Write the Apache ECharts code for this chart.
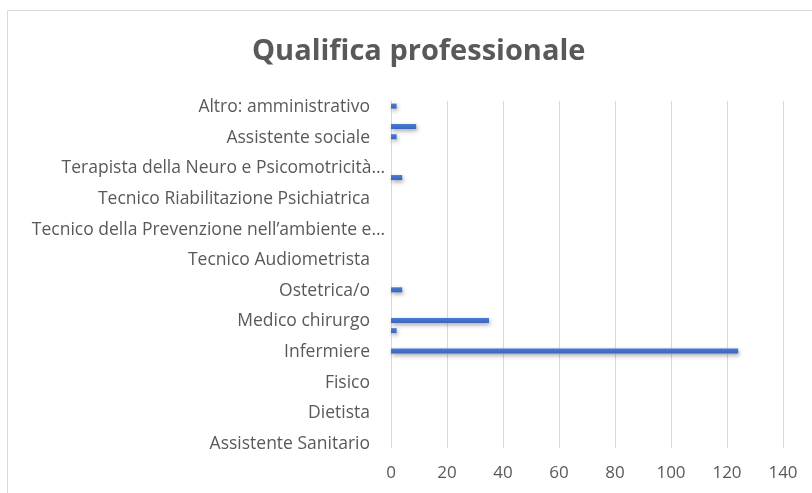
<!DOCTYPE html>
<html>
<head>
<meta charset="utf-8">
<script src="https://cdn.jsdelivr.net/npm/echarts@6/dist/echarts.min.js"></script>
<style>
html,body{margin:0;padding:0;background:#fff;}
#c{width:812px;height:493px;}
</style>
</head>
<body>
<div id="c"></div>
<script>
// Categories from bottom (index 0) to top; only every third label is shown in the chart
const categories = [
  "Assistente Sanitario",
  "Biologo",
  "Chimico",
  "Dietista",
  "Educatore professionale",
  "Farmacista",
  "Fisico",
  "Fisioterapista",
  "Igienista dentale",
  "Infermiere",
  "Infermiere pediatrico",
  "Logopedista",
  "Medico chirurgo",
  "Medico veterinario",
  "Odontoiatra",
  "Ostetrica/o",
  "Ortottista",
  "Podologo",
  "Tecnico Audiometrista",
  "Tecnico Audioprotesista",
  "Tecnico della Fisiopatologia Cardiocircolatoria",
  "Tecnico della Prevenzione nell\u2019ambiente e\u2026",
  "Tecnico di Laboratorio Biomedico",
  "Tecnico di Neurofisiopatologia",
  "Tecnico Riabilitazione Psichiatrica",
  "Tecnico Ortopedico",
  "Tecnico di Radiologia Medica",
  "Terapista della Neuro e Psicomotricit\u00e0\u2026",
  "Terapista Occupazionale",
  "Altro: educatore",
  "Assistente sociale",
  "Psicologo",
  "Altro: sociologo",
  "Altro: amministrativo"
];
const values = [
  0, 0, 0, 0, 0, 0, 0, 0, 0, 124,
  0, 2, 35, 0, 0, 4, 0, 0, 0, 0,
  0, 0, 0, 0, 0, 0, 4, 0, 0, 0,
  2, 9, 0, 2
];
const xTicks = { min: 0, max: 140, interval: 20 };
const titleText = "Qualifica professionale";

const chart = echarts.init(document.getElementById('c'), null, {renderer: 'canvas'});
chart.setOption({
  animation: false,
  backgroundColor: '#ffffff',
  title: {
    text: titleText,
    left: 247,
    top: 32,
    textStyle: {
      fontFamily: 'Open Sans',
      fontWeight: 'bold',
      fontSize: 29,
      color: '#595959'
    }
  },
  graphic: [{
    type: 'rect',
    shape: {x: 7.5, y: 10.5, width: 830, height: 520},
    style: {fill: 'none', stroke: '#d9d9d9', lineWidth: 1},
    silent: true,
    z: -1
  }],
  grid: {left: 391, right: 29, top: 101, bottom: 45, containLabel: false},
  xAxis: {
    type: 'value',
    min: xTicks.min,
    max: xTicks.max,
    interval: xTicks.interval,
    axisLine: {show: false},
    axisTick: {show: false},
    splitLine: {show: true, lineStyle: {color: '#d9d9d9', width: 1}},
    axisLabel: {
      fontFamily: 'Open Sans',
      fontSize: 17,
      color: '#595959',
      margin: 17
    }
  },
  yAxis: {
    type: 'category',
    data: categories,
    axisLine: {show: true, lineStyle: {color: '#d9d9d9', width: 1}},
    axisTick: {show: false},
    axisLabel: {
      interval: 2,
      fontFamily: 'Open Sans',
      fontSize: 17.5,
      color: '#595959',
      margin: 6,
      formatter: function (v) {
        return v.endsWith('\u2026') ? '{e|' + v + '}' : '{n|' + v + '}';
      },
      rich: {
        n: {fontFamily: 'Open Sans', fontSize: 17.5, color: '#595959', padding: [2, 15, 0, 0]},
        e: {fontFamily: 'Open Sans', fontSize: 17.5, color: '#595959', padding: [2, 0, 0, 0]}
      }
    }
  },
  series: [{
    type: 'bar',
    data: values,
    barWidth: 5,
    itemStyle: {
      color: new echarts.graphic.LinearGradient(0, 0, 0, 1, [
        {offset: 0, color: '#4a7bd4'},
        {offset: 1, color: '#3a66bc'}
      ]),
      shadowColor: 'rgba(0,0,0,0.35)',
      shadowBlur: 4,
      shadowOffsetY: 2,
      shadowOffsetX: 1
    }
  }]
});
</script>
</body>
</html>
